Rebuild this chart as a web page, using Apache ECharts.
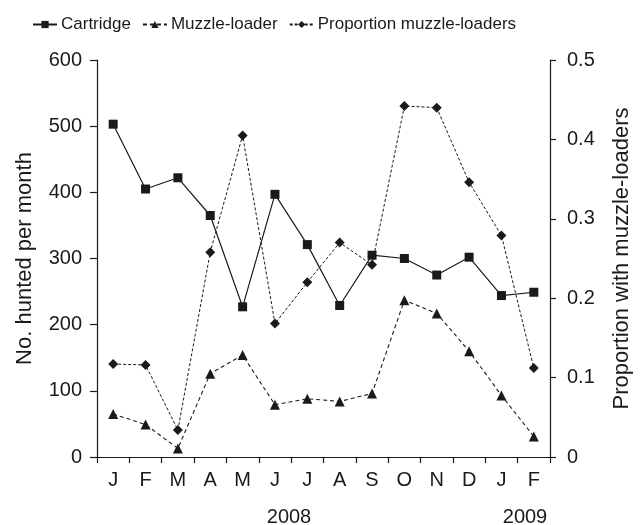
<!DOCTYPE html>
<html style="height: 100%">
    <head>
        <meta charset="utf-8">
    </head>
    <body style="height: 100%; margin: 0; background: #fff">
        <div id="container" style="width: 641px; height: 525px"></div>
        <script type="text/javascript" src="https://cdn.jsdelivr.net/npm/echarts@6/dist/echarts.min.js"></script>
        <script type="text/javascript">
var months = ['J', 'F', 'M', 'A', 'M', 'J', 'J', 'A', 'S', 'O', 'N', 'D', 'J', 'F'];
var cartridge = [503, 405, 422, 365, 227, 397, 321, 229, 305, 300, 275, 302, 244, 249];
var muzzleLoader = [65, 49, 13, 126, 154, 79, 88, 84, 96, 237, 217, 160, 93, 31];
var proportion = [0.117, 0.116, 0.034, 0.258, 0.405, 0.168, 0.220, 0.270, 0.242, 0.442, 0.440, 0.346, 0.279, 0.112];
var years = ['2008', '2009'];

var dom = document.getElementById('container');
var myChart = echarts.init(dom);
var font = 'Liberation Sans, Arial, sans-serif';
var ink = '#1a1a1a';

var axisCommon = {
    axisLine: { show: true, lineStyle: { color: ink, width: 1.2 } },
    axisTick: { show: true, length: 7, lineStyle: { color: ink, width: 1.2 } },
    axisLabel: { color: ink, fontSize: 20, fontFamily: font, margin: 15 },
    splitLine: { show: false },
    nameTextStyle: { color: ink, fontSize: 22, fontFamily: font }
};

var option = {
    backgroundColor: '#fff',
    animation: false,
    textStyle: { fontFamily: font },
    legend: {
        top: 11,
        left: 27,
        itemGap: 11,
        itemWidth: 24,
        itemHeight: 9,
        textStyle: { color: ink, fontSize: 17, fontFamily: font, padding: [0, 0, 0, -1] },
        data: ['Cartridge', 'Muzzle-loader', 'Proportion muzzle-loaders']
    },
    grid: { left: 97, right: 89, top: 60, bottom: 68 },
    xAxis: Object.assign({}, axisCommon, {
        type: 'category',
        data: months,
        boundaryGap: true,
        axisTick: { show: true, length: 6, lineStyle: { color: ink, width: 1.2 } },
        axisLabel: { color: ink, fontSize: 20, fontFamily: font, margin: 13, interval: 0 }
    }),
    yAxis: [
        Object.assign({}, axisCommon, {
            type: 'value',
            min: 0, max: 600, interval: 100,
            name: 'No. hunted per month',
            nameLocation: 'middle',
            nameGap: 61
        }),
        Object.assign({}, axisCommon, {
            type: 'value',
            min: 0, max: 0.5, interval: 0.1,
            name: 'Proportion with muzzle-loaders',
            nameLocation: 'middle',
            nameGap: 61,
            nameRotate: 90,
            axisTick: { show: true, length: 6, lineStyle: { color: ink, width: 1.2 } },
            axisLabel: { color: ink, fontSize: 20, fontFamily: font, margin: 17,
                formatter: function (v) { return v === 0 ? '0' : String(Math.round(v * 10) / 10); } }
        })
    ],
    graphic: [
        { type: 'text', x: 289, y: 517, style: { text: years[0], fill: ink, font: '20px ' + font, textAlign: 'center', textVerticalAlign: 'middle' } },
        { type: 'text', x: 525, y: 517, style: { text: years[1], fill: ink, font: '20px ' + font, textAlign: 'center', textVerticalAlign: 'middle' } }
    ],
    series: [
        {
            name: 'Cartridge',
            type: 'line',
            data: cartridge,
            symbol: 'rect',
            symbolSize: 9,
            itemStyle: { color: ink },
            lineStyle: { color: ink, width: 1.2, type: 'solid' },
            z: 3
        },
        {
            name: 'Muzzle-loader',
            type: 'line',
            data: muzzleLoader,
            symbol: 'triangle',
            symbolSize: 10,
            itemStyle: { color: ink },
            lineStyle: { color: ink, width: 1.1, type: [4, 3] },
            z: 2
        },
        {
            name: 'Proportion muzzle-loaders',
            type: 'line',
            yAxisIndex: 1,
            data: proportion,
            symbol: 'diamond',
            symbolSize: 10,
            itemStyle: { color: ink },
            lineStyle: { color: ink, width: 1, type: [3, 2] },
            z: 2
        }
    ]
};

myChart.setOption(option);
        </script>
    </body>
</html>
